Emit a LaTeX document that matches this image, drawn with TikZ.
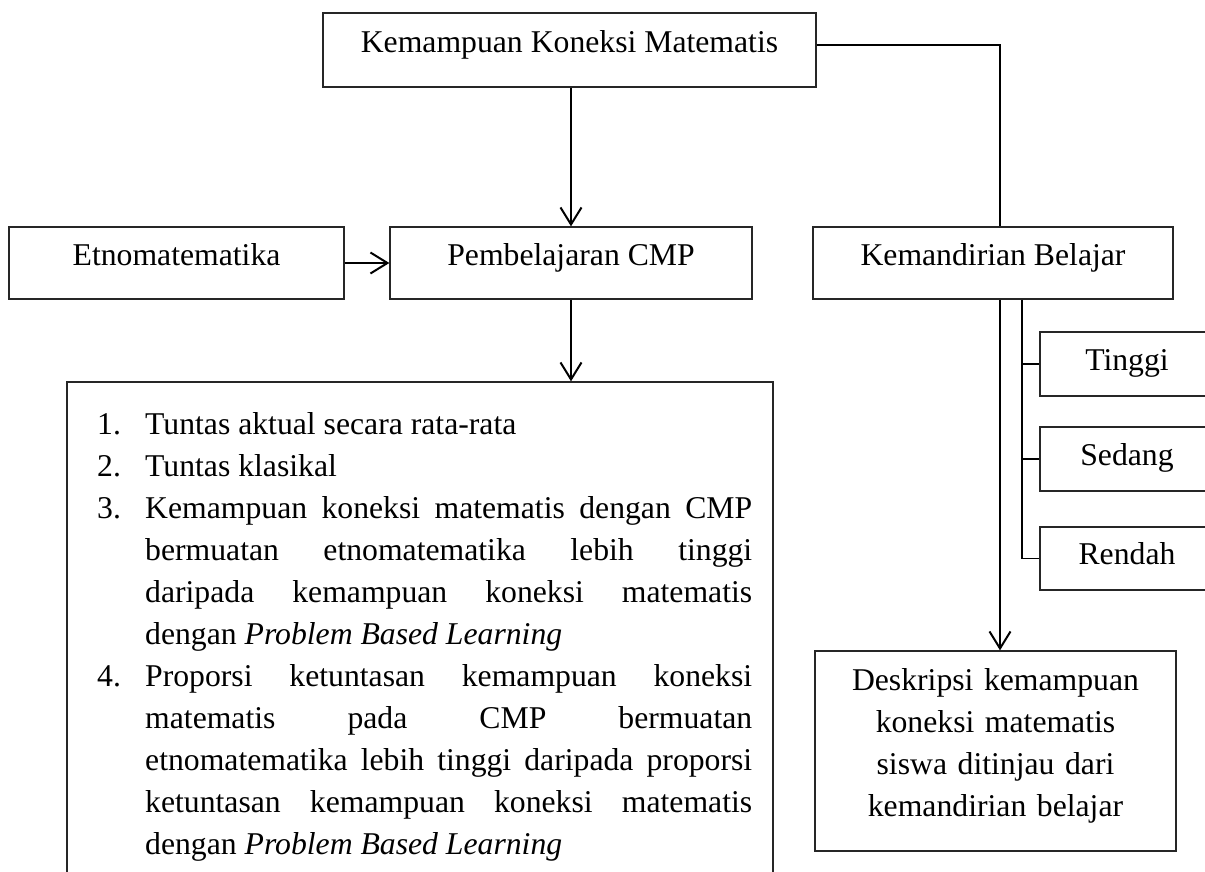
\documentclass[tikz,border=0pt]{standalone}
\usepackage{fontspec}
\setmainfont{Liberation Serif}
\usetikzlibrary{arrows.meta}

% one numbered entry with a hanging indent
\newcommand{\numitem}[2]{\par\noindent\hangindent=48pt\hangafter=1\makebox[48pt][l]{#1}#2\par}

\begin{document}
\begin{tikzpicture}[x=1pt,y=-1pt,
  every node/.style={font=\fontsize{31.7pt}{42pt}\selectfont, inner sep=0pt},
  box/.style={draw=black!85, line width=1.3pt},
  onel/.style={text height=21pt, text depth=17pt},
  lvl/.style={box, minimum width=174pt, minimum height=64pt, text height=21pt, text depth=9pt},
  arr/.style={line width=2pt, -{Straight Barb[length=17pt,width=21pt]}},
  link/.style={line width=1.3pt}]

\useasboundingbox (0,0) rectangle (1205,871);
\clip (0,0) rectangle (1205,871);

% main boxes
\node[box, onel, minimum width=493pt, minimum height=74pt] (kkm) at (569.5,50) {Kemampuan Koneksi Matematis};
\node[box, onel, minimum width=335pt, minimum height=72pt] (etno) at (176.5,263) {Etnomatematika};
\node[box, onel, minimum width=362pt, minimum height=72pt] (pemb) at (571,263) {Pembelajaran CMP};
\node[box, onel, minimum width=360pt, minimum height=72pt] (kb) at (993,263) {Kemandirian Belajar};

% outcome box, open at the lower edge of the page
\node[box, minimum width=706pt, minimum height=518pt] (out) at (420,641) {};
\node[anchor=north west, text width=655pt, align=justify] (list) at (97,392) {%
  \hyphenpenalty=10000 \exhyphenpenalty=10000 \tolerance=10000
  \numitem{\rule{0pt}{30pt}1.}{Tuntas aktual secara rata-rata}
  \numitem{2.}{Tuntas klasikal}
  \numitem{3.}{Kemampuan koneksi matematis dengan CMP\linebreak
    bermuatan etnomatematika lebih tinggi\linebreak
    daripada kemampuan koneksi matematis\linebreak
    dengan \textit{Problem Based Learning}}
  \numitem{4.}{Proporsi ketuntasan kemampuan koneksi\linebreak
    matematis pada CMP bermuatan\linebreak
    etnomatematika lebih tinggi daripada proporsi\linebreak
    ketuntasan kemampuan koneksi matematis\linebreak
    dengan \textit{Problem Based Learning}}};

% levels of learning independence
\node[lvl] (tinggi) at (1127,364) {Tinggi};
\node[lvl] (sedang) at (1127,459) {Sedang};
\node[lvl, minimum height=63pt] (rendah) at (1127,558.5) {Rendah};

\node[box, minimum width=361pt, minimum height=200pt, text width=340pt, align=center] (desc) at (995.5,751)
  {\rule{0pt}{30pt}Deskripsi kemampuan\\ koneksi matematis\\ siswa ditinjau dari\\ kemandirian belajar\rule[-26pt]{0pt}{26pt}};

% connectors
\draw[arr] (kkm.south -| pemb.north) -- (pemb.north);
\draw[link] ([yshift=5pt]kkm.east) -| ([xshift=7pt]kb.north);
\draw[arr] (etno.east) -- (pemb.west);
\draw[arr] (pemb.south) -- (pemb.south |- out.north);
\draw[line width=2.8pt, -{Straight Barb[length=17pt,width=21pt,line width=2pt]}]
  ([xshift=7pt]kb.south) -- ([xshift=7pt]kb.south |- desc.north);
\coordinate (br) at ([xshift=29pt]kb.south);
\draw[link] (br) |- (rendah.west);
\draw[link] (br |- tinggi.west) -- (tinggi.west);
\draw[link] (br |- sedang.west) -- (sedang.west);
\end{tikzpicture}
\end{document}
